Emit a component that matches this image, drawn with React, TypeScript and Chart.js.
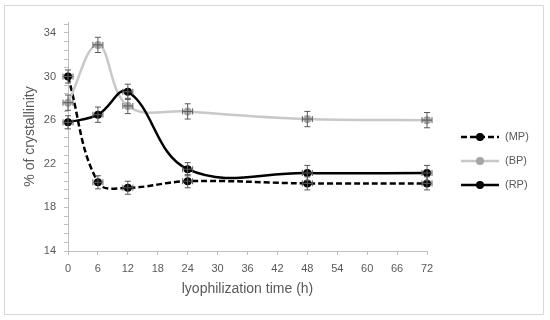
import { useEffect, useRef } from "react";
import { Chart, registerables } from "chart.js";

Chart.register(...registerables);

const hours = [0, 6, 12, 24, 48, 72];
const mpValues = [30.0, 20.3, 19.8, 20.4, 20.2, 20.2];
const bpValues = [27.6, 32.9, 27.3, 26.8, 26.1, 26.0];
const rpValues = [25.8, 26.5, 28.6, 21.5, 21.15, 21.15];
const mpErrors = [0.6, 0.6, 0.6, 0.6, 0.6, 0.6];
const bpErrors = [0.7, 0.7, 0.7, 0.7, 0.7, 0.7];
const rpErrors = [0.6, 0.7, 0.7, 0.6, 0.7, 0.7];
const timeErrors = [1, 1, 1, 1, 1, 1];
const seriesLabels = ["(MP)", "(BP)", "(RP)"];
const xTickValues = [0, 6, 12, 18, 24, 30, 36, 42, 48, 54, 60, 66, 72];
const yTickLabels = [14, 18, 22, 26, 30, 34];
const yMin = 14;
const yMax = 35;
const yMinorStep = 0.8;

const TEXT = "#595959";
const AXIS = "#bfbfbf";
const FONT = "'Liberation Sans', Arial, sans-serif";

const errorBarPlugin = {
  id: "errorBars",
  afterDatasetsDraw(chart: any) {
    const ctx = chart.ctx;
    const xs = chart.scales.x;
    const ys = chart.scales.y;
    ctx.save();
    ctx.strokeStyle = "#595959";
    ctx.lineWidth = 1;
    ctx.setLineDash([]);
    chart.data.datasets.forEach((ds: any) => {
      ds.data.forEach((p: any, j: number) => {
        const px = xs.getPixelForValue(p.x);
        const py = ys.getPixelForValue(p.y);
        const yTop = ys.getPixelForValue(p.y + ds.yErrors[j]);
        const yBot = ys.getPixelForValue(p.y - ds.yErrors[j]);
        const xL = xs.getPixelForValue(p.x - ds.xErrors[j]);
        const xR = xs.getPixelForValue(p.x + ds.xErrors[j]);
        const cap = 3;
        ctx.beginPath();
        ctx.moveTo(px, yTop);
        ctx.lineTo(px, yBot);
        ctx.moveTo(px - cap, yTop);
        ctx.lineTo(px + cap, yTop);
        ctx.moveTo(px - cap, yBot);
        ctx.lineTo(px + cap, yBot);
        ctx.moveTo(xL, py);
        ctx.lineTo(xR, py);
        ctx.moveTo(xL, py - cap);
        ctx.lineTo(xL, py + cap);
        ctx.moveTo(xR, py - cap);
        ctx.lineTo(xR, py + cap);
        ctx.stroke();
      });
    });
    ctx.restore();
  },
};

const framePlugin = {
  id: "frame",
  beforeDraw(chart: any) {
    const ctx = chart.ctx;
    ctx.save();
    ctx.fillStyle = "#ffffff";
    ctx.fillRect(0, 0, chart.width, chart.height);
    ctx.strokeStyle = "#d9d9d9";
    ctx.lineWidth = 1;
    ctx.strokeRect(4.5, 5.5, 539, 309);
    ctx.restore();
  },
};

const legendPlugin = {
  id: "customLegend",
  afterDraw(chart: any) {
    const ctx = chart.ctx;
    const ys = [137, 161, 185];
    ctx.save();
    chart.data.datasets.forEach((ds: any, i: number) => {
      const y = ys[i];
      ctx.beginPath();
      ctx.strokeStyle = ds.borderColor;
      ctx.lineWidth = ds.borderWidth;
      ctx.setLineDash(ds.borderDash || []);
      ctx.moveTo(461, y);
      ctx.lineTo(499, y);
      ctx.stroke();
      ctx.setLineDash([]);
      ctx.beginPath();
      ctx.fillStyle = ds.pointBackgroundColor;
      ctx.arc(480, y, 4, 0, Math.PI * 2);
      ctx.fill();
      ctx.fillStyle = TEXT;
      ctx.font = `11px ${FONT}`;
      ctx.textBaseline = "middle";
      ctx.textAlign = "left";
      ctx.fillText(ds.label, 505, y);
    });
    ctx.restore();
  },
};

const toPoints = (vals: number[]) => hours.map((h, i) => ({ x: h, y: vals[i] }));

export default function App() {
  const ref = useRef<HTMLCanvasElement>(null);
  useEffect(() => {
    document.body.style.margin = "0";
    if (!ref.current) return;
    const common = {
      borderWidth: 2.5,
      pointRadius: 4,
      pointHoverRadius: 4,
      pointBorderWidth: 0,
      tension: 0.4,
      clip: false as any,
      fill: false,
      xErrors: timeErrors,
    };
    const chart = new Chart(ref.current, {
      type: "line",
      data: {
        datasets: [
          {
            ...common,
            label: seriesLabels[0],
            data: toPoints(mpValues),
            borderColor: "#000000",
            pointBackgroundColor: "#000000",
            borderDash: [6, 3],
            yErrors: mpErrors,
            order: 2,
          } as any,
          {
            ...common,
            label: seriesLabels[1],
            data: toPoints(bpValues),
            borderColor: "#c8c8c8",
            pointBackgroundColor: "#a6a6a6",
            yErrors: bpErrors,
            order: 1,
          } as any,
          {
            ...common,
            label: seriesLabels[2],
            data: toPoints(rpValues),
            borderColor: "#000000",
            pointBackgroundColor: "#000000",
            yErrors: rpErrors,
            order: 0,
          } as any,
        ],
      },
      options: {
        responsive: false,
        animation: false,
        layout: { padding: { top: 22, right: 123, bottom: 0, left: 0 } },
        plugins: { legend: { display: false }, tooltip: { enabled: false } },
        scales: {
          x: {
            type: "linear",
            min: 0,
            max: 72,
            afterBuildTicks: (scale: any) => {
              scale.ticks = xTickValues.map((v) => ({ value: v }));
            },
            afterFit: (scale: any) => {
              scale.height = 69;
            },
            grid: {
              display: true,
              drawOnChartArea: false,
              drawTicks: true,
              tickLength: 4,
              color: AXIS,
            },
            border: { display: true, color: AXIS },
            ticks: {
              color: TEXT,
              font: { family: FONT, size: 11 },
              padding: 7,
              maxRotation: 0,
              autoSkip: false,
              callback: (v: any) => String(v),
            },
            title: {
              display: true,
              text: "lyophilization time (h)",
              color: TEXT,
              font: { family: FONT, size: 14 },
              padding: { top: 0, bottom: 22 },
            },
          },
          y: {
            type: "linear",
            min: yMin,
            max: yMax,
            afterBuildTicks: (scale: any) => {
              const t: any[] = [];
              for (let v = yMin; v <= yMax + 1e-6; v += yMinorStep) {
                t.push({ value: Math.round(v * 10) / 10 });
              }
              scale.ticks = t;
            },
            afterFit: (scale: any) => {
              scale.width = 68;
            },
            grid: {
              display: true,
              drawOnChartArea: false,
              drawTicks: true,
              tickLength: 4,
              color: AXIS,
            },
            border: { display: true, color: AXIS },
            ticks: {
              color: TEXT,
              font: { family: FONT, size: 11 },
              padding: 8,
              autoSkip: false,
              callback: (v: any) => {
                const hit = yTickLabels.find((t) => Math.abs(t - v) < 1e-6);
                return hit !== undefined ? String(hit) : "";
              },
            },
            title: {
              display: true,
              text: "% of crystallinity",
              color: TEXT,
              font: { family: FONT, size: 14 },
              padding: { top: 22, bottom: 0 },
            },
          },
        },
      },
      plugins: [framePlugin, errorBarPlugin, legendPlugin],
    });
    return () => chart.destroy();
  }, []);
  return (
    <div style={{ width: 550, height: 320 }}>
      <canvas ref={ref} width={550} height={320} style={{ display: "block" }} />
    </div>
  );
}
